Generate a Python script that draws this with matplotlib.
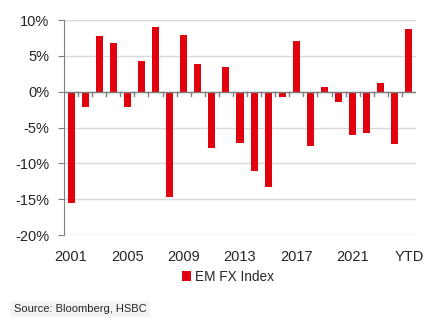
import matplotlib.pyplot as plt
import numpy as np
from matplotlib.ticker import FuncFormatter, MultipleLocator

plt.rcParams['font.family'] = ['Liberation Sans', 'DejaVu Sans']

# Annual EM FX index returns, %
years = [str(y) for y in range(2001, 2025)] + ['YTD']
returns = [-15.6, -2.1, 7.8, 6.8, -2.1, 4.3, 9.0, -14.7, 7.9, 3.9, -7.9,
           3.5, -7.2, -11.1, -13.3, -0.8, 7.1, -7.6, 0.7, -1.4, -6.1, -5.8,
           1.2, -7.3, 8.7]
tick_labels = ['2001', '2005', '2009', '2013', '2017', '2021', 'YTD']

red = '#e0000e'
text_col = '#262626'
axis_col = '#7f7f7f'

fig = plt.figure(figsize=(4.31, 3.30), dpi=100)
ax = fig.add_axes([64 / 431, 1 - 235 / 330, 352 / 431, 215 / 330])

x = np.arange(len(years))
ax.bar(x, returns, width=0.5, color=red, label='EM FX Index', zorder=3)

ax.set_xlim(-0.5, len(years) - 0.5)
ax.set_ylim(-20, 10)
ax.yaxis.set_major_locator(MultipleLocator(5))
ax.yaxis.set_major_formatter(FuncFormatter(lambda v, p: f'{v:.0f}%'))
ax.grid(axis='y', color='#d9d9d9', linewidth=1, zorder=0)

# category labels every four years, no tick marks on the bottom
tick_pos = [years.index(t) for t in tick_labels]
ax.set_xticks(tick_pos)
ax.set_xticklabels(tick_labels)
ax.tick_params(axis='x', length=0, pad=11, labelsize=10.5, labelcolor=text_col)
ax.tick_params(axis='y', length=4, color=axis_col, labelsize=10.5,
               labelcolor=text_col, pad=6.5)

for s in ['top', 'right', 'bottom']:
    ax.spines[s].set_visible(False)
ax.spines['left'].set_color(axis_col)

# zero line with small tick marks at category boundaries
ax.axhline(0, color=axis_col, linewidth=1, zorder=4)
for b in np.arange(0.5, len(years) - 0.5, 1.0):
    ax.plot([b, b], [0, -0.6], color=axis_col, linewidth=1, zorder=4,
            clip_on=False)

fig.legend(loc='center', bbox_to_anchor=(228 / 431, 1 - 277 / 330),
           frameon=False, fontsize=9.8, handlelength=0.7, handleheight=0.7,
           handletextpad=0.3, labelcolor=text_col)

fig.text(14 / 431, 1 - 309 / 330, 'Source: Bloomberg, HSBC', fontsize=8,
         color=text_col, va='center', ha='left',
         bbox=dict(facecolor='#f3f3f3', edgecolor='none', pad=2.5))

fig.savefig('out.png', dpi=100)
